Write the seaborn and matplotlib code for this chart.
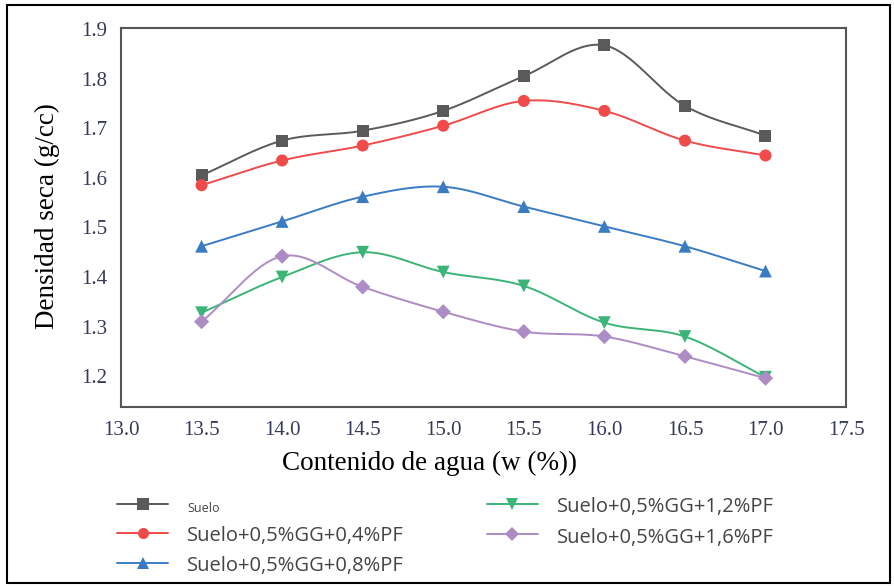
# plot.py - curva de compactacion (densidad seca vs contenido de agua)

import numpy as np
import pandas as pd
import seaborn as sns
import matplotlib.pyplot as plt
from matplotlib.lines import Line2D
from matplotlib.patches import Rectangle

sns.set_theme(style="white")
plt.rcParams['font.family'] = ['Liberation Serif', 'DejaVu Serif']

# ------------------------ Data ------------------------
agua = [13.5, 14.0, 14.5, 15.0, 15.5, 16.0, 16.5, 17.0]

suelo = [1.605, 1.675, 1.695, 1.735, 1.805, 1.867, 1.745, 1.685]
pf_04 = [1.585, 1.635, 1.665, 1.705, 1.755, 1.735, 1.675, 1.645]
pf_08 = [1.462, 1.512, 1.562, 1.582, 1.542, 1.502, 1.462, 1.412]
pf_12 = [1.328, 1.400, 1.450, 1.410, 1.382, 1.308, 1.280, 1.198]
pf_16 = [1.310, 1.442, 1.380, 1.330, 1.290, 1.280, 1.240, 1.196]

labels = ["Suelo", "Suelo+0,5%GG+0,4%PF", "Suelo+0,5%GG+0,8%PF",
          "Suelo+0,5%GG+1,2%PF", "Suelo+0,5%GG+1,6%PF"]
series = [suelo, pf_04, pf_08, pf_12, pf_16]
colors = ["#5a5a5a", "#f04a4a", "#3a7cc4", "#3bb577", "#ad8bc5"]
markers = ["s", "o", "^", "v", "D"]
msizes = [75, 75, 85, 85, 60]

x_ticks = [13.0, 13.5, 14.0, 14.5, 15.0, 15.5, 16.0, 16.5, 17.0, 17.5]
y_ticks = [1.2, 1.3, 1.4, 1.5, 1.6, 1.7, 1.8, 1.9]


# ------------------------ Utility functions ------------------------
def smooth_curve(x, y, n=30):
    # Catmull-Rom style smoothing between measured points (like Excel "smoothed line")
    x = np.asarray(x, float)
    y = np.asarray(y, float)
    m = np.zeros_like(y)
    m[1:-1] = (y[2:] - y[:-2]) / (x[2:] - x[:-2])
    m[0] = (y[1] - y[0]) / (x[1] - x[0])
    m[-1] = (y[-1] - y[-2]) / (x[-1] - x[-2])
    xs, ys = [], []
    for i in range(len(x) - 1):
        h = x[i + 1] - x[i]
        t = np.linspace(0, 1, n, endpoint=(i == len(x) - 2))
        h00 = 2 * t**3 - 3 * t**2 + 1
        h10 = t**3 - 2 * t**2 + t
        h01 = -2 * t**3 + 3 * t**2
        h11 = t**3 - t**2
        xs.append(x[i] + t * h)
        ys.append(h00 * y[i] + h10 * h * m[i] + h01 * y[i + 1] + h11 * h * m[i + 1])
    return np.concatenate(xs), np.concatenate(ys)


# ------------------------ Plot ------------------------
fig = plt.figure(figsize=(8.95, 5.86), dpi=100)
ax = fig.add_axes([0.1352, 0.3055, 0.8101, 0.6467])

handles = []
for vals, lab, col, mk, ms in zip(series, labels, colors, markers, msizes):
    xs, ys = smooth_curve(agua, vals)
    sns.lineplot(x=xs, y=ys, ax=ax, color=col, lw=1.4, sort=False, zorder=2)
    sns.scatterplot(x=agua, y=vals, ax=ax, color=col, marker=mk, s=ms,
                    edgecolor="none", zorder=3)
    handles.append(Line2D([], [], color=col, lw=1.4, marker=mk,
                          markersize=8 if mk != "D" else 7, markeredgewidth=0))

ax.set_xlim(13.0, 17.5)
ax.set_ylim(1.138, 1.902)
ax.set_xticks(x_ticks)
ax.set_xticklabels([f"{v:.1f}" for v in x_ticks])
ax.set_yticks(y_ticks)
ax.set_yticklabels([f"{v:.1f}" for v in y_ticks])
ax.tick_params(axis="both", labelsize=15, colors="#353a5a", length=0)
ax.tick_params(axis="x", pad=10)
ax.tick_params(axis="y", pad=10)
ax.set_xlabel("Contenido de agua (w (%))", fontsize=19.5, color="black", va="center")
ax.xaxis.set_label_coords(0.425, -0.148)
ax.set_ylabel("Densidad seca (g/cc)", fontsize=19.5, color="black", va="center")
ax.yaxis.set_label_coords(-0.102, 0.504)
for sp in ax.spines.values():
    sp.set_color("#555555")
    sp.set_linewidth(1.5)

leg = fig.legend(handles, labels, loc="upper left", bbox_to_anchor=(0.1195, 0.172),
                 ncol=2, frameon=False, borderpad=0, handlelength=2.54,
                 handleheight=1.2, handletextpad=0.95, columnspacing=4.1,
                 labelspacing=0.4, prop={"family": "Open Sans", "size": 14.5})
for txt in leg.get_texts():
    txt.set_color("#444444")
leg.get_texts()[0].set_fontsize(9)

# outer frame around the whole figure
fig.patches.append(Rectangle((0.008, 0.005), 0.986, 0.987, transform=fig.transFigure,
                             fill=False, edgecolor="black", lw=1.5))

plt.savefig("out.png", dpi=100)
plt.close()
